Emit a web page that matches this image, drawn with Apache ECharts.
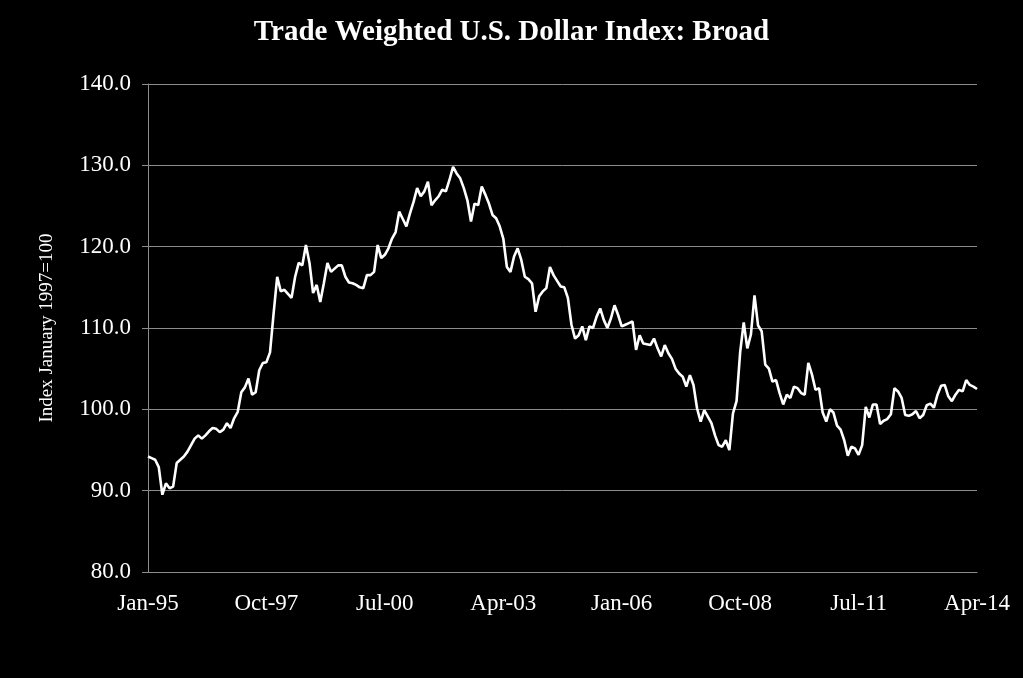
<!DOCTYPE html>
<html><head><meta charset="utf-8">
<script src="https://cdn.jsdelivr.net/npm/echarts@6/dist/echarts.min.js"></script>
<style>html,body{margin:0;padding:0;background:#000}#c{width:1023px;height:678px}</style>
</head><body><div id="c"></div>
<script>
var title = 'Trade Weighted U.S. Dollar Index: Broad';
var yAxisName = 'Index January 1997=100';
var monthNames = ['Jan','Feb','Mar','Apr','May','Jun','Jul','Aug','Sep','Oct','Nov','Dec'];
var startYear = 1995, endYear = 2014, endMonthIndex = 3; // Jan-95 .. Apr-14
var tickLabels = ['Jan-95','Oct-97','Jul-00','Apr-03','Jan-06','Oct-08','Jul-11','Apr-14'];
var yTicks = [80, 90, 100, 110, 120, 130, 140];

// monthly values
var v1995 = [94.2, 94.0, 93.8, 92.9, 89.5, 90.9, 90.3, 90.5, 93.4, 93.8, 94.2, 94.8];
var v1996 = [95.6, 96.4, 96.8, 96.4, 96.8, 97.3, 97.7, 97.6, 97.2, 97.5, 98.3, 97.7];
var v1997 = [98.9, 99.7, 102.1, 102.7, 103.8, 101.8, 102.1, 104.8, 105.7, 105.8, 107.0, 111.8];
var v1998 = [116.3, 114.5, 114.7, 114.2, 113.7, 116.3, 118.0, 117.7, 120.2, 118.0, 114.3, 115.3];
var v1999 = [113.2, 115.5, 118.0, 116.9, 117.3, 117.7, 117.7, 116.3, 115.6, 115.5, 115.3, 115.0];
var v2000 = [114.9, 116.5, 116.5, 116.9, 120.2, 118.6, 119.0, 119.8, 121.0, 121.8, 124.3, 123.4];
var v2001 = [122.5, 124.1, 125.5, 127.2, 126.2, 126.8, 128.0, 125.1, 125.7, 126.2, 127.0, 126.8];
var v2002 = [128.2, 129.8, 129.0, 128.4, 127.2, 125.7, 123.1, 125.3, 125.1, 127.4, 126.4, 125.3];
var v2003 = [123.9, 123.5, 122.5, 121.0, 117.5, 116.9, 118.8, 119.8, 118.4, 116.3, 116.0, 115.5];
var v2004 = [112.0, 113.9, 114.5, 114.9, 117.5, 116.5, 115.8, 115.1, 115.0, 113.7, 110.4, 108.7];
var v2005 = [109.1, 110.2, 108.5, 110.2, 110.0, 111.4, 112.4, 111.0, 110.0, 111.2, 112.8, 111.6];
var v2006 = [110.2, 110.4, 110.6, 110.8, 107.3, 109.1, 108.1, 108.0, 107.9, 108.7, 107.5, 106.5];
var v2007 = [107.9, 106.9, 106.2, 105.0, 104.4, 104.0, 102.8, 104.2, 103.0, 100.1, 98.5, 99.9];
var v2008 = [99.1, 98.3, 96.8, 95.6, 95.4, 96.2, 95.0, 99.5, 101.0, 107.0, 110.7, 107.5];
var v2009 = [109.2, 114.0, 110.3, 109.6, 105.5, 105.0, 103.4, 103.6, 102.0, 100.6, 101.8, 101.4];
var v2010 = [102.8, 102.6, 102.0, 101.8, 105.7, 104.3, 102.4, 102.6, 99.6, 98.5, 100.0, 99.6];
var v2011 = [98.0, 97.5, 96.2, 94.3, 95.4, 95.2, 94.4, 95.6, 100.3, 99.0, 100.6, 100.6];
var v2012 = [98.2, 98.6, 98.8, 99.4, 102.6, 102.2, 101.4, 99.3, 99.2, 99.4, 99.8, 98.9];
var v2013 = [99.3, 100.5, 100.7, 100.2, 101.8, 102.9, 103.0, 101.6, 101.0, 101.8, 102.4, 102.2];
var v2014 = [103.6, 103.0, 102.8, 102.5];

var values = [].concat(v1995, v1996, v1997, v1998, v1999, v2000, v2001, v2002, v2003, v2004,
  v2005, v2006, v2007, v2008, v2009, v2010, v2011, v2012, v2013, v2014);

var categories = [];
for (var y = startYear; y <= endYear; y++) {
  for (var m = 0; m < 12; m++) {
    if (y === endYear && m > endMonthIndex) break;
    categories.push(monthNames[m] + '-' + String(y).slice(2));
  }
}

var chart = echarts.init(document.getElementById('c'), null, {renderer: 'canvas'});
var serif = '"Liberation Serif", "Times New Roman", serif';
chart.setOption({
  backgroundColor: '#000000',
  animation: false,
  title: {
    text: title, left: 'center', top: 13,
    textStyle: {color: '#ffffff', fontFamily: serif, fontWeight: 'bold', fontSize: 29}
  },
  grid: {left: 148, right: 46, top: 84, bottom: 106, containLabel: false},
  xAxis: {
    type: 'category', data: categories, boundaryGap: false,
    axisLine: {show: true, lineStyle: {color: '#8c8c8c', width: 1}},
    axisTick: {show: false},
    axisLabel: {
      color: '#ffffff', fontFamily: serif, fontSize: 23, margin: 20,
      interval: function (i, v) { return tickLabels.indexOf(v) >= 0; },
      showMinLabel: true, showMaxLabel: true
    },
    splitLine: {show: false}
  },
  yAxis: {
    type: 'value', min: yTicks[0], max: yTicks[yTicks.length - 1], interval: 10,
    name: yAxisName, nameLocation: 'middle', nameGap: 91, nameRotate: 90,
    nameTextStyle: {color: '#ffffff', fontFamily: serif, fontSize: 19},
    axisLine: {show: true, lineStyle: {color: '#8c8c8c', width: 1}},
    axisTick: {show: true, length: 6, lineStyle: {color: '#8c8c8c'}},
    axisLabel: {
      color: '#ffffff', fontFamily: serif, fontSize: 23, margin: 17,
      formatter: function (v) { return v.toFixed(1); }
    },
    splitLine: {show: true, lineStyle: {color: '#8c8c8c', width: 1}}
  },
  series: [{
    type: 'line', data: values, showSymbol: false, smooth: false,
    lineStyle: {color: '#ffffff', width: 2.6}
  }]
});
</script></body></html>
